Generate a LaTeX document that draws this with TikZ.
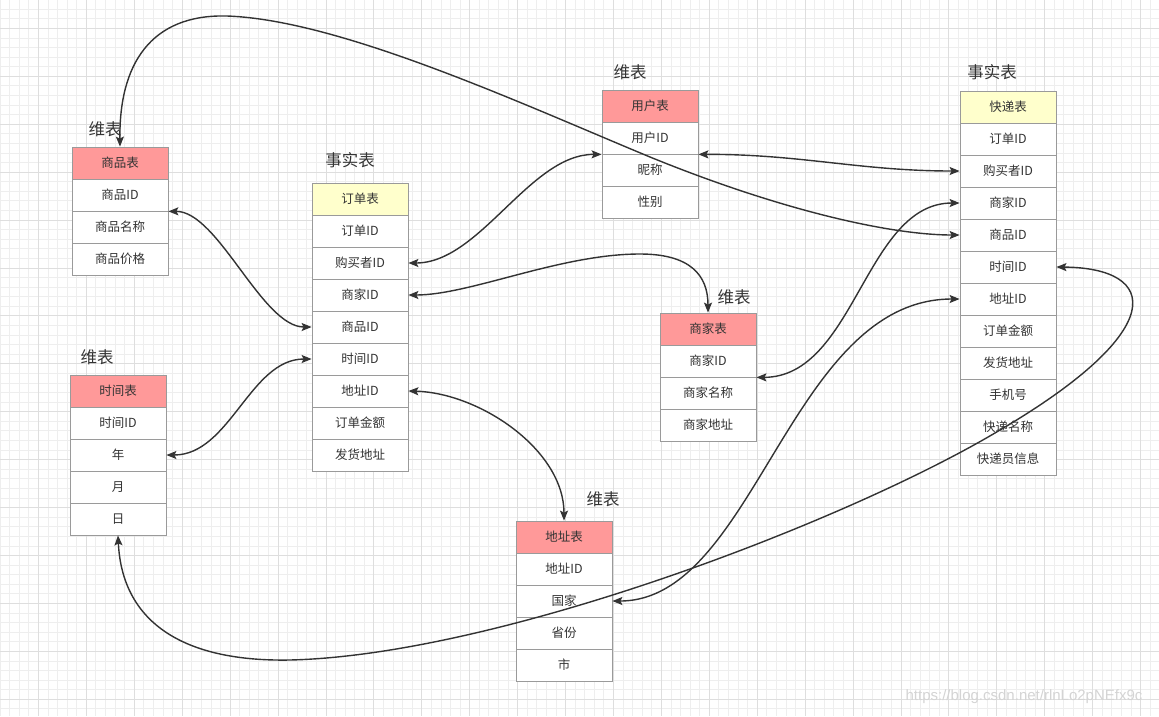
\documentclass[tikz,border=0pt]{standalone}
\usepackage{fontspec}
\newfontfamily\cjk{Noto Sans CJK SC}
\newfontfamily\wmfont{Liberation Sans}
\usetikzlibrary{arrows.meta}
\definecolor{gminor}{HTML}{EEEEEE}
\definecolor{gmajor}{HTML}{DEDEDE}
\definecolor{bord}{HTML}{9A9A9A}
\definecolor{hred}{HTML}{FF9999}
\definecolor{hyel}{HTML}{FFFFCC}
\definecolor{txt}{HTML}{333333}
\definecolor{lnk}{HTML}{333333}
\definecolor{wmc}{HTML}{D4D4D4}
\begin{document}
\begin{tikzpicture}[x=1pt,y=-1pt,
  cell/.style={draw=bord, fill=white, minimum width=96pt, minimum height=32pt, inner sep=0pt,
    font=\cjk\fontsize{12.5}{14}\selectfont, text=txt, line width=0.8pt},
  hdrred/.style={cell, fill=hred},
  hdryel/.style={cell, fill=hyel},
  lbl/.style={font=\cjk\fontsize{16.5}{18}\selectfont, text=txt, inner sep=0pt},
  link/.style={draw=lnk, line width=1.4pt, {Stealth[length=10pt,width=8pt,inset=2pt]}-{Stealth[length=10pt,width=8pt,inset=2pt]}},
  gmin/.style={draw=gminor, line width=0.7pt},
  gmaj/.style={draw=gmajor, line width=0.8pt}
]
\useasboundingbox (0,0) rectangle (1159,716);
\fill[white] (0,0) rectangle (1159,716);
% grid
\foreach \i in {0,...,121} \draw[gmin] (\i*9.584,0) -- (\i*9.584,716);
\foreach \j in {0,...,75} \draw[gmin] (0,-0.45+\j*9.584) -- (1159,-0.45+\j*9.584);
\foreach \i in {0,...,23} \draw[gmaj] (38.4+\i*47.92,0) -- (38.4+\i*47.92,716);
\foreach \j in {0,...,14} \draw[gmaj] (0,28.3+\j*47.92) -- (1159,28.3+\j*47.92);

% 商品表
\node[hdrred] (sp0) at (120,163) {商品表};
\node[cell] (sp1) at (120,195) {商品ID};
\node[cell] (sp2) at (120,227) {商品名称};
\node[cell] (sp3) at (120,259) {商品价格};
\node[lbl] (lsp) at (105,129) {维表};

% 订单表
\node[hdryel] (dd0) at (360,199) {订单表};
\node[cell] (dd1) at (360,231) {订单ID};
\node[cell] (dd2) at (360,263) {购买者ID};
\node[cell] (dd3) at (360,295) {商家ID};
\node[cell] (dd4) at (360,327) {商品ID};
\node[cell] (dd5) at (360,359) {时间ID};
\node[cell] (dd6) at (360,391) {地址ID};
\node[cell] (dd7) at (360,423) {订单金额};
\node[cell] (dd8) at (360,455) {发货地址};
\node[lbl] (ldd) at (350,160) {事实表};

% 用户表
\node[hdrred] (yh0) at (650,106) {用户表};
\node[cell] (yh1) at (650,138) {用户ID};
\node[cell] (yh2) at (650,170) {昵称};
\node[cell] (yh3) at (650,202) {性别};
\node[lbl] (lyh) at (630,72) {维表};

% 快递表
\node[hdryel] (kd0) at (1008,107) {快递表};
\node[cell] (kd1) at (1008,139) {订单ID};
\node[cell] (kd2) at (1008,171) {购买者ID};
\node[cell] (kd3) at (1008,203) {商家ID};
\node[cell] (kd4) at (1008,235) {商品ID};
\node[cell] (kd5) at (1008,267) {时间ID};
\node[cell] (kd6) at (1008,299) {地址ID};
\node[cell] (kd7) at (1008,331) {订单金额};
\node[cell] (kd8) at (1008,363) {发货地址};
\node[cell] (kd9) at (1008,395) {手机号};
\node[cell] (kd10) at (1008,427) {快递名称};
\node[cell] (kd11) at (1008,459) {快递员信息};
\node[lbl] (lkd) at (992,72) {事实表};

% 商家表
\node[hdrred] (sj0) at (708,329) {商家表};
\node[cell] (sj1) at (708,361) {商家ID};
\node[cell] (sj2) at (708,393) {商家名称};
\node[cell] (sj3) at (708,425) {商家地址};
\node[lbl] (lsj) at (734,297) {维表};

% 时间表
\node[hdrred] (tm0) at (118,391) {时间表};
\node[cell] (tm1) at (118,423) {时间ID};
\node[cell] (tm2) at (118,455) {年};
\node[cell] (tm3) at (118,487) {月};
\node[cell] (tm4) at (118,519) {日};
\node[lbl] (ltm) at (97,357) {维表};

% 地址表
\node[hdrred] (dz0) at (564,537) {地址表};
\node[cell] (dz1) at (564,569) {地址ID};
\node[cell] (dz2) at (564,601) {国家};
\node[cell] (dz3) at (564,633) {省份};
\node[cell] (dz4) at (564,665) {市};
\node[lbl] (ldz) at (603,499) {维表};

% connectors
\draw[link] (sp0.north) .. controls (119,65) and (150,14) .. (227,16)
  .. controls (340,20) and (520,103) .. (650,157)
  .. controls (780,210) and (890,235) .. (kd4.west);
\draw[link] (sp1.south east) .. controls (218,211) and (262,327) .. (dd4.west);
\draw[link] (dd2.east) .. controls (480,263) and (530,154) .. (yh1.south west);
\draw[link] (yh1.south east) .. controls (800,154) and (860,171) .. (kd2.west);
\draw[link] (dd3.east) .. controls (470,295) and (560,254) .. (640,254)
  .. controls (690,254) and (708,275) .. (sj0.north);
\draw[link] (dd5.west) .. controls (250,359) and (230,455) .. (tm2.east);
\draw[link] (dd6.east) .. controls (480,393) and (564,450) .. (dz0.north);
\draw[link] (sj1.south east) .. controls (855,377) and (865,203) .. (kd3.west);
\draw[link] (dz2.east) .. controls (755,601) and (790,299) .. (kd6.west);
\draw[link] (tm4.south) .. controls (122,620) and (180,662) .. (290,660)
  .. controls (500,655) and (850,520) .. (1000,430)
  .. controls (1170,330) and (1160,268) .. (kd5.east);

% watermark
\node[font=\wmfont\fontsize{15}{17}\selectfont, text=wmc, inner sep=0pt] (wm) at (1024,697) {https://blog.csdn.net/rlnLo2pNEfx9c};
\end{tikzpicture}
\end{document}
